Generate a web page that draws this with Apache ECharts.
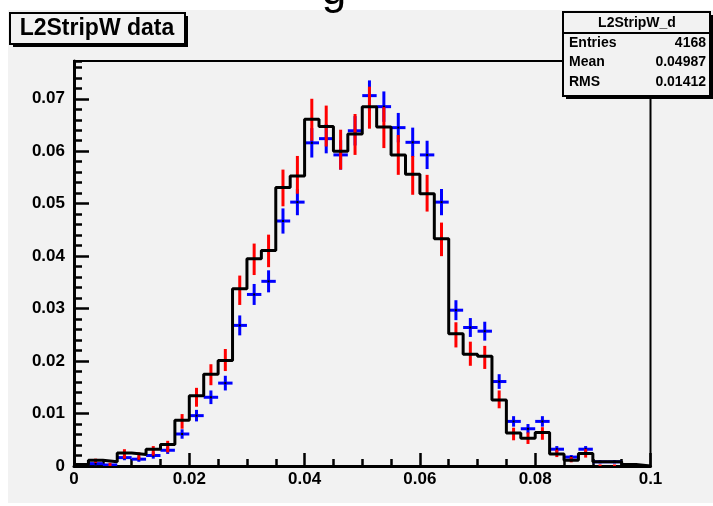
<!DOCTYPE html>
<html><head><meta charset="utf-8">
<script src="https://cdn.jsdelivr.net/npm/echarts@6/dist/echarts.min.js"></script>
<style>html,body{margin:0;padding:0;background:#fff}#c{width:713px;height:506px}</style>
</head><body><div id="c"></div>
<script>
// ---- data (40 bins from 0 to 0.1) ----
const binWidth = 0.0025;
const xMin = 0, xMax = 0.1;
const blackValues = [0.0003,0.0011,0.0008,0.0025,0.0022,0.0032,0.0041,0.0087,0.0134,0.0175,
  0.0201,0.0338,0.0395,0.0411,0.0531,0.0553,0.0661,0.0647,0.0600,0.0633,
  0.0685,0.0646,0.0593,0.0556,0.0519,0.0433,0.0252,0.0213,0.0209,0.0126,
  0.0063,0.0053,0.0064,0.0023,0.0011,0.0024,0.0008,0.0008,0.0003,0.0000];
const redValues = [0.0001,0.0010,0.0003,0.0023,0.0019,0.0029,0.0037,0.0085,0.0131,0.0174,
  0.0202,0.0335,0.0394,0.0410,0.0530,0.0555,0.0660,0.0648,0.0603,0.0632,
  0.0683,0.0645,0.0593,0.0554,0.0520,0.0432,0.0250,0.0214,0.0207,0.0127,
  0.0061,0.0053,0.0062,0.0024,0.0012,0.0024,0.0001,0.0001,null,null];
const redErrors = [0.0001,0.0004,0.0003,0.0009,0.0007,0.0009,0.0011,0.0014,0.0018,0.0020,
  0.0021,0.0028,0.0030,0.0031,0.0035,0.0036,0.0040,0.0039,0.0038,0.0039,
  0.0040,0.0039,0.0038,0.0037,0.0035,0.0032,0.0024,0.0023,0.0022,0.0017,
  0.0012,0.0011,0.0012,0.0007,0.0005,0.0008,0.0001,0.0001,null,null];
const blueValues = [null,0.00045,0.0002,0.0016,0.0013,0.0020,0.0030,0.0061,0.0096,0.0131,
  0.0158,0.0268,0.0327,0.0352,0.0467,0.0503,0.0616,0.0624,0.0593,0.0639,
  0.0706,0.0685,0.0645,0.0617,0.0593,0.0503,0.0297,0.0264,0.0257,0.0161,
  0.0085,0.0071,0.0085,0.0032,0.0017,0.0032,0.0008,0.0008,null,null];
const blueErrors = [null,0.0003,0.0002,0.0005,0.0005,0.0006,0.0007,0.0009,0.0011,0.0013,
  0.0014,0.0019,0.0020,0.0021,0.0024,0.0025,0.0028,0.0028,0.0028,0.0028,
  0.0029,0.0029,0.0028,0.0028,0.0027,0.0025,0.0019,0.0018,0.0018,0.0014,
  0.0010,0.0009,0.0010,0.0006,0.0004,0.0006,0.0003,0.0003,null,null];
const yMax = 0.0772;
const xTickLabels = ['0','0.02','0.04','0.06','0.08','0.1'];
const yTickLabels = ['0','0.01','0.02','0.03','0.04','0.05','0.06','0.07'];
const titleText = 'L2StripW data';
const statsName = 'L2StripW_d';
const statsRows = [['Entries','4168'],['Mean','0.04987'],['RMS','0.01412']];

// ---- build series data ----
const stepData = blackValues.map((v,i)=>[i*binWidth, v]);
stepData.push([xMax, blackValues[blackValues.length-1]]);
const redData = [], blueData = [];
redValues.forEach((v,i)=>{ if(v!==null) redData.push([(i+0.5)*binWidth, v, redErrors[i]]); });
blueValues.forEach((v,i)=>{ if(v!==null) blueData.push([(i+0.5)*binWidth, v, blueErrors[i]]); });

const FONT = '"Liberation Sans", Arial, Helvetica, sans-serif';
const chart = echarts.init(document.getElementById('c'), null, {renderer:'canvas'});

function redItem(params, api){
  const x = api.value(0), v = api.value(1), e = api.value(2);
  const p1 = api.coord([x, v-e]), p2 = api.coord([x, v+e]);
  let y1 = p1[1], y2 = p2[1];
  if (y1 - y2 < 2) { const m=(y1+y2)/2; y1=m+1; y2=m-1; }
  return {type:'line', shape:{x1:p1[0], y1:y1, x2:p2[0], y2:y2},
    style:{stroke:'#ff0000', lineWidth:3}};
}
function blueItem(params, api){
  const x = api.value(0), v = api.value(1), e = api.value(2);
  const pl = api.coord([x-binWidth/2, v]), pr = api.coord([x+binWidth/2, v]);
  const pb = api.coord([x, v-e]), pt = api.coord([x, v+e]);
  const c = api.coord([x, v]);
  return {type:'group', children:[
    {type:'line', shape:{x1:pb[0], y1:pb[1], x2:pt[0], y2:pt[1]}, style:{stroke:'#0000ff', lineWidth:3}},
    {type:'line', shape:{x1:pl[0], y1:pl[1], x2:pr[0], y2:pr[1]}, style:{stroke:'#0000ff', lineWidth:3}},
    {type:'rect', shape:{x:c[0]-1, y:c[1]-1, width:2, height:2}, style:{fill:'#000'}}
  ]};
}

const option = {
  backgroundColor:'#ffffff',
  animation:false,
  graphic:[
    {type:'rect', z:-100, shape:{x:8, y:10, width:705, height:493}, style:{fill:'#f2f2f2'}},
    {type:'text', z:10, x:334, y:14, style:{text:'g', font:'normal 44px '+FONT, fill:'#000', align:'center', verticalAlign:'bottom'}},
    // title box
    {type:'rect', z:10, shape:{x:13, y:16, width:175, height:31}, style:{fill:'#000'}},
    {type:'rect', z:11, shape:{x:10, y:13, width:175, height:31}, style:{fill:'#f2f2f2', stroke:'#000', lineWidth:2}},
    {type:'text', z:12, x:97, y:29, style:{text:titleText, font:'bold 23px '+FONT, fill:'#000', align:'center', verticalAlign:'middle'}},
    // stats box
    {type:'rect', z:10, shape:{x:566, y:15, width:148, height:84}, style:{fill:'#000'}},
    {type:'rect', z:11, shape:{x:563, y:12, width:147, height:84}, style:{fill:'#f2f2f2', stroke:'#000', lineWidth:2}},
    {type:'line', z:12, shape:{x1:563, y1:33, x2:710, y2:33}, style:{stroke:'#000', lineWidth:2}},
    {type:'text', z:12, x:637, y:23, style:{text:statsName, font:'bold 14px '+FONT, fill:'#000', align:'center', verticalAlign:'middle'}},
    ...statsRows.flatMap((r,k)=>[
      {type:'text', z:12, x:569, y:43+k*19.5, style:{text:r[0], font:'bold 14px '+FONT, fill:'#000', align:'left', verticalAlign:'middle'}},
      {type:'text', z:12, x:706, y:43+k*19.5, style:{text:r[1], font:'bold 14px '+FONT, fill:'#000', align:'right', verticalAlign:'middle'}}
    ])
  ],
  grid:{left:74, right:62.5, top:61, bottom:40, show:true, borderColor:'#000', borderWidth:2, backgroundColor:'transparent', containLabel:false},
  xAxis:[
    {type:'value', min:xMin, max:xMax, interval:0.02, position:'bottom',
      axisLine:{show:true, onZero:false, lineStyle:{color:'#000', width:3}},
      axisTick:{show:true, inside:true, length:13, lineStyle:{color:'#000', width:2.5}},
      axisLabel:{show:true, margin:5, color:'#000', fontFamily:FONT, fontWeight:'bold', fontSize:17,
        formatter:(v)=>{ const i=Math.round(v/0.02); return xTickLabels[i]!==undefined?xTickLabels[i]:''; }},
      splitLine:{show:false}},
    {type:'value', min:xMin, max:xMax, interval:0.005, position:'bottom', offset:0,
      axisLine:{show:false}, axisTick:{show:true, inside:true, length:7, lineStyle:{color:'#000', width:2.5}},
      axisLabel:{show:false}, splitLine:{show:false}}
  ],
  yAxis:[
    {type:'value', min:0, max:yMax, interval:0.01, position:'left',
      axisLine:{show:true, onZero:false, lineStyle:{color:'#000', width:3}},
      axisTick:{show:true, inside:true, length:15, lineStyle:{color:'#000', width:2.5}},
      axisLabel:{show:true, margin:9, color:'#000', fontFamily:FONT, fontWeight:'bold', fontSize:17, showMaxLabel:false,
        formatter:(v)=>{ const i=Math.round(v/0.01); return (Math.abs(v-i*0.01)<1e-9 && yTickLabels[i]!==undefined)?yTickLabels[i]:''; }},
      splitLine:{show:false}},
    {type:'value', min:0, max:yMax, interval:0.002, position:'left', offset:0,
      axisLine:{show:false}, axisTick:{show:true, inside:true, length:8, lineStyle:{color:'#000', width:2.5}},
      axisLabel:{show:false}, splitLine:{show:false}}
  ],
  series:[
    {type:'custom', name:'blue', xAxisIndex:0, yAxisIndex:0, z:3, renderItem:blueItem, data:blueData, clip:true},
    {type:'custom', name:'red', xAxisIndex:0, yAxisIndex:0, z:4, renderItem:redItem, data:redData, clip:true},
    {type:'line', name:'black', xAxisIndex:0, yAxisIndex:0, z:5, step:'end', data:stepData, symbol:'none',
      lineStyle:{color:'#000', width:3}, clip:true}
  ]
};
chart.setOption(option);
</script>
</body></html>
